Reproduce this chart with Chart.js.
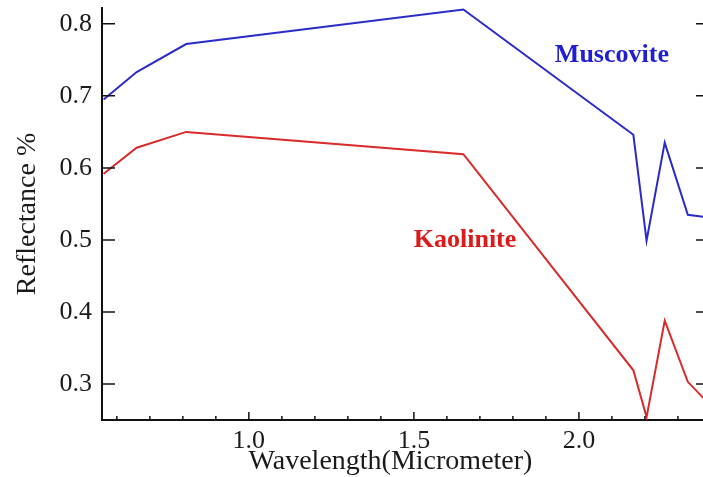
<!DOCTYPE html>
<html>
<head>
<meta charset="utf-8">
<script src="https://cdn.jsdelivr.net/npm/chart.js@4/dist/chart.umd.min.js"></script>
<style>
  body { margin: 0; background: #fff; }
  #wrap { width: 703px; height: 477px; }
</style>
</head>
<body>
<div id="wrap"><canvas id="chart" width="703" height="477"></canvas></div>
<script>
// band centres (micrometer)
const wavelengths = [0.56, 0.66, 0.81, 1.65, 2.165, 2.205, 2.26, 2.33, 2.395];
const muscovite = [0.695, 0.733, 0.772, 0.82, 0.646, 0.499, 0.635, 0.535, 0.531];
const kaolinite = [0.592, 0.628, 0.650, 0.619, 0.319, 0.254, 0.388, 0.303, 0.272];

// axis ticks
const xTicks = [1.0, 1.5, 2.0];
const xMinorTicks = [0.6, 0.7, 0.8, 0.9, 1.1, 1.2, 1.3, 1.4, 1.6, 1.7, 1.8, 1.9, 2.1, 2.2, 2.3];
const yTicks = [0.3, 0.4, 0.5, 0.6, 0.7, 0.8];

// series labels (placed in data coordinates)
const seriesLabels = [
    { text: 'Muscovite', x: 2.1, y: 0.757, color: '#1f1fcf' },
    { text: 'Kaolinite', x: 1.655, y: 0.5, color: '#dc1a1a' }
];
const xTitle = 'Wavelength(Micrometer)';

const serif = "'Liberation Serif', 'DejaVu Serif', serif";

function toPoints(ys) {
    return wavelengths.map((w, i) => ({ x: w, y: ys[i] }));
}

// 内向刻度、x轴标题和曲线标签
const decorPlugin = {
    id: 'decor',
    afterDraw(chart) {
        const ctx = chart.ctx;
        const xs = chart.scales.x;
        const ys = chart.scales.y;
        const area = chart.chartArea;
        ctx.save();
        ctx.strokeStyle = '#111';
        ctx.lineWidth = 1.5;
        ctx.beginPath();
        yTicks.forEach(v => {
            const py = ys.getPixelForValue(v);
            ctx.moveTo(area.left, py);
            ctx.lineTo(area.left + 13, py);
            ctx.moveTo(area.right, py);
            ctx.lineTo(area.right - 7, py);
        });
        xTicks.forEach(v => {
            const px = xs.getPixelForValue(v);
            ctx.moveTo(px, area.bottom);
            ctx.lineTo(px, area.bottom - 8);
        });
        xMinorTicks.forEach(v => {
            const px = xs.getPixelForValue(v);
            ctx.moveTo(px, area.bottom);
            ctx.lineTo(px, area.bottom - 4);
        });
        ctx.stroke();

        // x轴标题（原图略偏左）
        ctx.font = '28px ' + serif;
        ctx.fillStyle = '#1a1a1a';
        ctx.textAlign = 'center';
        ctx.textBaseline = 'alphabetic';
        ctx.fillText(xTitle, (area.left + area.right) / 2 - 12, area.bottom + 49);

        ctx.font = 'bold 26px ' + serif;
        ctx.textBaseline = 'middle';
        seriesLabels.forEach(l => {
            ctx.fillStyle = l.color;
            ctx.fillText(l.text, xs.getPixelForValue(l.x), ys.getPixelForValue(l.y));
        });
        ctx.restore();
    }
};

new Chart(document.getElementById('chart'), {
    type: 'line',
    data: {
        datasets: [
            {
                label: 'Muscovite',
                data: toPoints(muscovite),
                borderColor: '#2b2bc8',
                borderWidth: 2,
                pointRadius: 0,
                tension: 0,
                fill: false
            },
            {
                label: 'Kaolinite',
                data: toPoints(kaolinite),
                borderColor: '#d82a2a',
                borderWidth: 2,
                pointRadius: 0,
                tension: 0,
                fill: false
            }
        ]
    },
    options: {
        responsive: false,
        animation: false,
        layout: { padding: { top: 8, right: 0, left: 0, bottom: 0 } },
        plugins: {
            legend: { display: false },
            tooltip: { enabled: false }
        },
        scales: {
            x: {
                type: 'linear',
                min: 0.555,
                max: 2.376,
                afterBuildTicks: s => { s.ticks = xTicks.map(v => ({ value: v })); },
                afterFit: s => {
                    s.height = 57;
                    s.paddingLeft = 0;
                    s.paddingRight = 0;
                },
                grid: { drawOnChartArea: false, drawTicks: false },
                border: { display: true, color: '#111', width: 2 },
                ticks: {
                    padding: 6,
                    color: '#1a1a1a',
                    font: { family: serif, size: 26 },
                    callback: v => v.toFixed(1)
                },
                title: { display: false }
            },
            y: {
                min: 0.25,
                max: 0.822,
                afterBuildTicks: s => { s.ticks = yTicks.map(v => ({ value: v })); },
                afterFit: s => {
                    s.width = 102;
                    s.paddingTop = 0;
                    s.paddingBottom = 0;
                },
                grid: { drawOnChartArea: false, drawTicks: false },
                border: { display: true, color: '#111', width: 2 },
                ticks: {
                    padding: 10,
                    color: '#1a1a1a',
                    font: { family: serif, size: 26 },
                    callback: v => v.toFixed(1)
                },
                title: {
                    display: true,
                    text: 'Reflectance %',
                    color: '#1a1a1a',
                    font: { family: serif, size: 28 },
                    padding: { top: 11, bottom: 0 }
                }
            }
        }
    },
    plugins: [decorPlugin]
});
</script>
</body>
</html>
